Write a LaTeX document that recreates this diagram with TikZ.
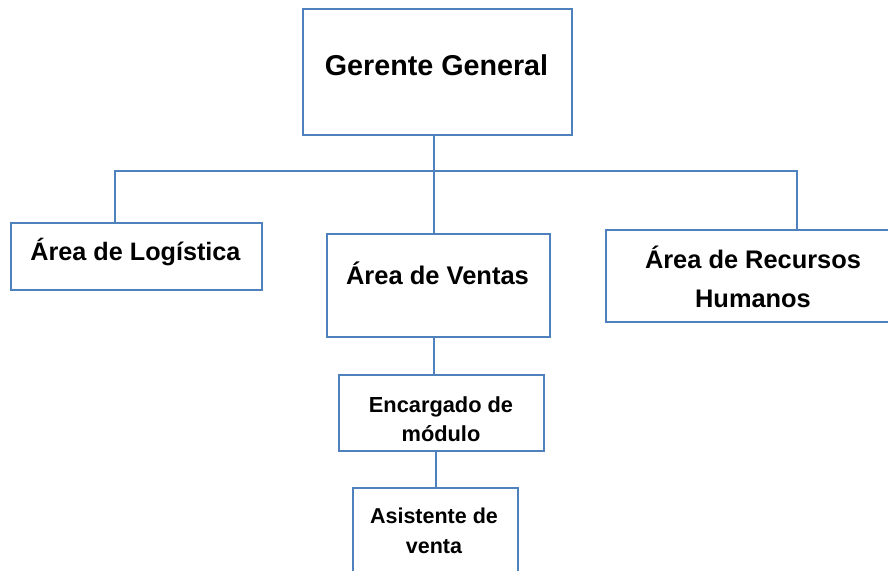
\documentclass[tikz,border=0pt]{standalone}
\usepackage{fontspec}
\setmainfont{Liberation Sans}
\definecolor{lineblue}{RGB}{79,129,189}
\begin{document}
\begin{tikzpicture}[x=1pt,y=-1pt,
  box/.style={draw=lineblue, line width=1.5pt, fill=white, rectangle, inner sep=0pt},
  conn/.style={draw=lineblue, line width=1.5pt},
  lbl/.style={font=\bfseries, anchor=base, align=center, inner sep=0pt}]
\clip (0,0) rectangle (888,570);
\fill[white] (0,0) rectangle (888,570);
% boxes
\node[box, minimum width=269pt, minimum height=126pt] (gg) at (437.5,72) {};
\node[box, minimum width=251pt, minimum height=67pt] (log) at (136.5,256.5) {};
\node[box, minimum width=223pt, minimum height=103pt] (ven) at (438.5,285.5) {};
\node[box, minimum width=289pt, minimum height=92pt] (rrhh) at (750.5,276) {};
\node[box, minimum width=205pt, minimum height=76pt] (enc) at (441.5,413) {};
\node[box, minimum width=165pt, minimum height=97pt] (asi) at (435.5,536.5) {};
% labels (base = baseline of last line)
\node[lbl, font=\bfseries\fontsize{28.7}{34}\selectfont] (tgg) at (436.5,75) {Gerente General};
\node[lbl, font=\bfseries\fontsize{25.2}{30}\selectfont] (tlog) at (135.5,260) {Área de Logística};
\node[lbl, font=\bfseries\fontsize{25.5}{30}\selectfont] (tven) at (437.5,284) {Área de Ventas};
\node[lbl, font=\bfseries\fontsize{25.4}{39}\selectfont] (trrhh) at (753,307) {Área de Recursos\\Humanos};
\node[lbl, font=\bfseries\fontsize{21.8}{29}\selectfont] (tenc) at (441,441) {Encargado de\\módulo};
\node[lbl, font=\bfseries\fontsize{21.5}{30}\selectfont] (tasi) at (434,553) {Asistente de\\venta};
% connector coordinates
\coordinate (bus) at (434,171);
\coordinate (busL) at (115,171);
\coordinate (busR) at (797,171);
\coordinate (t2) at (436,460);
% connectors
\draw[conn] (bus |- gg.south) -- (bus |- ven.north);
\draw[conn] (busL |- log.north) -- (busL) -- (busR) -- (busR |- rrhh.north);
\draw[conn] (bus |- ven.south) -- (bus |- enc.north);
\draw[conn] (t2 |- enc.south) -- (t2 |- asi.north);
\end{tikzpicture}
\end{document}
